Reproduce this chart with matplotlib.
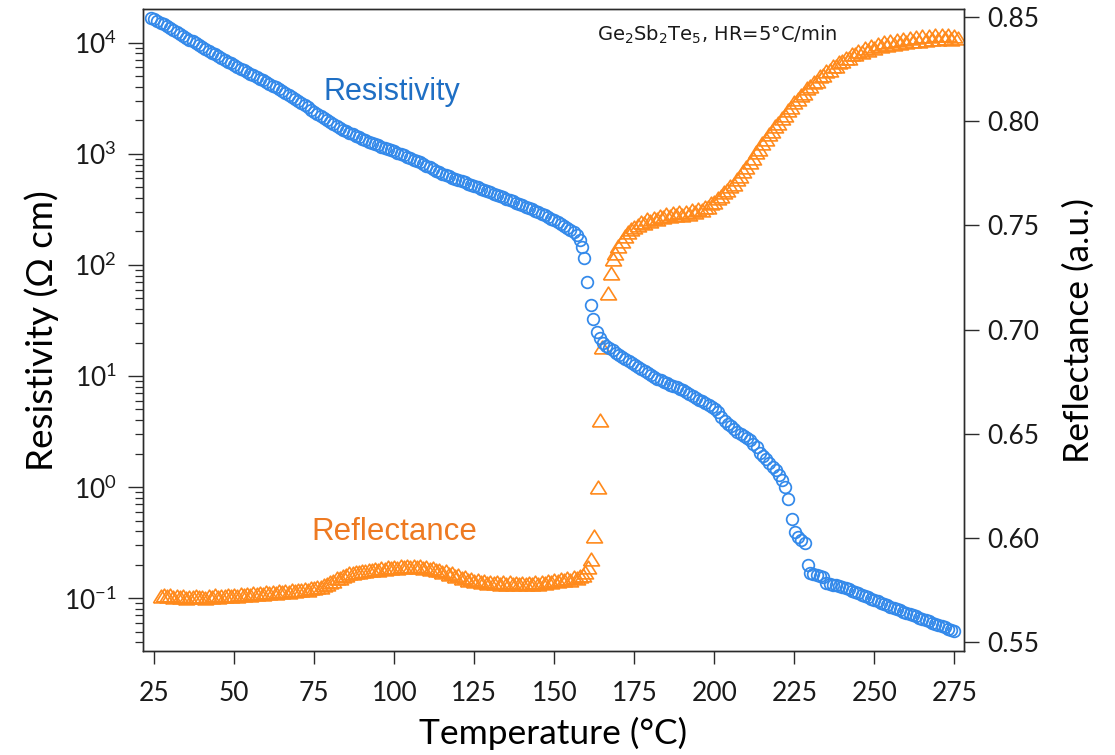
import matplotlib
matplotlib.use("Agg")
import numpy as np
import matplotlib.pyplot as plt
from matplotlib.ticker import LogLocator, NullFormatter, FormatStrFormatter, FixedLocator

# ---------------------------------------------------------------------------
# Data: Ge2Sb2Te5 film heated at 5 °C/min
# ---------------------------------------------------------------------------
# Resistivity, stored as log10(rho / Ohm cm)
res_temp = [
    24, 25, 26, 27, 28, 29, 30, 31, 32, 33,
    34, 35, 36, 37, 38, 39, 40, 41, 42, 43,
    44, 45, 46, 47, 48, 49, 50, 51, 52, 53,
    54, 55, 56, 57, 58, 59, 60, 61, 62, 63,
    64, 65, 66, 67, 68, 69, 70, 71, 72, 73,
    74, 75, 76, 77, 78, 79, 80, 81, 82, 83,
    84, 85, 86, 87, 88, 89, 90, 91, 92, 93,
    94, 95, 96, 97, 98, 99, 100, 101, 102, 103,
    104, 105, 106, 107, 108, 109, 110, 111, 112, 113,
    114, 115, 116, 117, 118, 119, 120, 121, 122, 123,
    124, 125, 126, 127, 128, 129, 130, 131, 132, 133,
    134, 135, 136, 137, 138, 139, 140, 141, 142, 143,
    144, 145, 146, 147, 148, 149, 150, 151, 152, 153,
    154, 155, 156, 157, 158,
    158.7, 159.3, 160.3, 161.3, 162.2, 163.2, 164.2, 165.2, 166.2, 167.2,
    168.2, 169.2, 170.2, 171.2, 172.2, 173.2, 174.2, 175.2, 176.2, 177.2,
    178.2, 179.2, 180.2, 181.2, 182.2, 183.2, 184.2, 185.2, 186.2, 187.2,
    188.2, 189.2, 190.2, 191.2, 192.2, 193.2, 194.2, 195.2, 196.2, 197.2,
    198.2, 199.2, 200.2, 201.2, 202.2, 203.2, 204.2, 205.2, 206.2, 207.2,
    208.2, 209.2, 210.2, 211.2, 212.2, 213.2, 214.2, 215.2, 216.2, 217.2,
    218.2, 219.2, 220.2, 221.2,
    222.1, 223.1, 224.2, 225.2, 226.2, 227.2, 228.2, 229.1, 229.9, 230.9,
    232.0, 233.0, 234.0, 235.0,
    236, 237, 238, 239, 240, 241, 242, 243, 244, 245,
    246, 247, 248, 249, 250, 251, 252, 253, 254, 255,
    256, 257, 258, 259, 260, 261, 262, 263, 264, 265,
    266, 267, 268, 269, 270, 271, 272, 273, 274, 275,
]
res_log = [
    4.220, 4.210, 4.195, 4.180, 4.165, 4.147, 4.130, 4.113, 4.096, 4.079,
    4.062, 4.045, 4.028, 4.011, 3.994, 3.977, 3.960, 3.943, 3.926, 3.910,
    3.894, 3.878, 3.862, 3.846, 3.830, 3.814, 3.798, 3.782, 3.767, 3.752,
    3.737, 3.722, 3.707, 3.692, 3.677, 3.662, 3.646, 3.630, 3.614, 3.597,
    3.580, 3.562, 3.544, 3.526, 3.508, 3.490, 3.473, 3.456, 3.438, 3.418,
    3.398, 3.378, 3.359, 3.340, 3.321, 3.302, 3.283, 3.266, 3.249, 3.232,
    3.217, 3.203, 3.189, 3.175, 3.162, 3.149, 3.136, 3.123, 3.110, 3.098,
    3.087, 3.076, 3.065, 3.054, 3.043, 3.032, 3.021, 3.010, 2.999, 2.988,
    2.975, 2.961, 2.947, 2.933, 2.925, 2.905, 2.891, 2.877, 2.863, 2.849,
    2.835, 2.822, 2.810, 2.798, 2.786, 2.775, 2.764, 2.753, 2.742, 2.731,
    2.720, 2.708, 2.697, 2.686, 2.675, 2.664, 2.653, 2.642, 2.631, 2.620,
    2.608, 2.596, 2.584, 2.572, 2.560, 2.548, 2.536, 2.524, 2.512, 2.500,
    2.488, 2.475, 2.461, 2.446, 2.431, 2.415, 2.400, 2.384, 2.367, 2.350,
    2.332, 2.313, 2.292, 2.265, 2.225,
    2.160, 2.060, 1.850, 1.640, 1.510, 1.400, 1.340, 1.300, 1.272, 1.250,
    1.230, 1.210, 1.190, 1.172, 1.155, 1.138, 1.121, 1.102, 1.083, 1.064,
    1.045, 1.026, 1.008, 0.992, 0.977, 0.962, 0.947, 0.933, 0.921, 0.909,
    0.897, 0.885, 0.873, 0.857, 0.840, 0.822, 0.805, 0.788, 0.771, 0.754,
    0.737, 0.720, 0.703, 0.680, 0.635, 0.598, 0.572, 0.546, 0.522, 0.500,
    0.479, 0.459, 0.440, 0.420, 0.392, 0.360, 0.310, 0.280, 0.250, 0.220,
    0.185, 0.150, 0.110, 0.060,
    0.000, -0.110, -0.290, -0.400, -0.446, -0.476, -0.500, -0.700, -0.776, -0.785,
    -0.791, -0.798, -0.806, -0.866,
    -0.872, -0.878, -0.884, -0.890, -0.900, -0.910, -0.920, -0.932, -0.944, -0.956,
    -0.968, -0.980, -0.992, -1.004, -1.016, -1.028, -1.040, -1.052, -1.064, -1.076,
    -1.087, -1.098, -1.109, -1.120, -1.131, -1.142, -1.153, -1.164, -1.175, -1.186,
    -1.197, -1.208, -1.219, -1.230, -1.241, -1.252, -1.263, -1.274, -1.285, -1.296,
]

# Reflectance (a.u.)
refl_temp = [
    27, 28, 29, 30, 31, 32, 33, 34, 35, 36,
    37, 38, 39, 40, 41, 42, 43, 44, 45, 46,
    47, 48, 49, 50, 51, 52, 53, 54, 55, 56,
    57, 58, 59, 60, 61, 62, 63, 64, 65, 66,
    67, 68, 69, 70, 71, 72, 73, 74, 75, 76,
    77, 78, 79, 80, 81, 82, 83, 84, 85, 86,
    87, 88, 89, 90, 91, 92, 93, 94, 95, 96,
    97, 98, 99, 100, 101, 102, 103, 104, 105, 106,
    107, 108, 109, 110, 111, 112, 113, 114, 115, 116,
    117, 118, 119, 120, 121, 122, 123, 124, 125, 126,
    127, 128, 129, 130, 131, 132, 133, 134, 135, 136,
    137, 138, 139, 140, 141, 142, 143, 144, 145, 146,
    147, 148, 149, 150, 151, 152, 153, 154, 155, 156,
    157, 158, 159,
    159.6, 160.4, 161.4, 162.4, 163.6, 164.3, 164.8, 166.7, 167.6, 168.4,
    169, 170, 171, 172, 173, 174, 175, 176, 177, 178,
    179, 180, 181, 182, 183, 184, 185, 186, 187, 188,
    189, 190, 191, 192, 193, 194, 195, 196, 197, 198,
    199, 200, 201, 202, 203, 204, 205, 206, 207, 208,
    209, 210, 211, 212, 213, 214, 215, 216, 217, 218,
    219, 220, 221, 222, 223, 224, 225, 226, 227, 228,
    229, 230, 231, 232, 233, 234, 235, 236, 237, 238,
    239, 240, 241, 242, 243, 244, 245, 246, 247, 248,
    249, 250, 251, 252, 253, 254, 255, 256, 257, 258,
    259, 260, 261, 262, 263, 264, 265, 266, 267, 268,
    269, 270, 271, 272, 273, 274, 275, 276,
]
refl_value = [
    0.5722, 0.5728, 0.5720, 0.5726, 0.5718, 0.5724, 0.5716, 0.5721, 0.5714, 0.5719,
    0.5715, 0.5724, 0.5716, 0.5719, 0.5714, 0.5721, 0.5717, 0.5726, 0.5719, 0.5724,
    0.5720, 0.5729, 0.5722, 0.5727, 0.5723, 0.5731, 0.5726, 0.5733, 0.5728, 0.5735,
    0.5731, 0.5738, 0.5733, 0.5741, 0.5735, 0.5742, 0.5737, 0.5745, 0.5740, 0.5747,
    0.5742, 0.5751, 0.5746, 0.5753, 0.5749, 0.5757, 0.5753, 0.5761, 0.5758, 0.5767,
    0.5766, 0.5776, 0.5778, 0.5790, 0.5795, 0.5806, 0.5810, 0.5820, 0.5822, 0.5830,
    0.5830, 0.5838, 0.5836, 0.5843, 0.5840, 0.5848, 0.5845, 0.5852, 0.5848, 0.5856,
    0.5852, 0.5859, 0.5855, 0.5862, 0.5857, 0.5865, 0.5860, 0.5867, 0.5862, 0.5868,
    0.5861, 0.5866, 0.5858, 0.5862, 0.5852, 0.5856, 0.5845, 0.5849, 0.5837, 0.5840,
    0.5828, 0.5831, 0.5819, 0.5821, 0.5809, 0.5812, 0.5800, 0.5804, 0.5794, 0.5798,
    0.5789, 0.5794, 0.5785, 0.5791, 0.5783, 0.5789, 0.5781, 0.5788, 0.5780, 0.5787,
    0.5779, 0.5786, 0.5778, 0.5785, 0.5778, 0.5786, 0.5779, 0.5788, 0.5781, 0.5791,
    0.5784, 0.5795, 0.5788, 0.5799, 0.5792, 0.5803, 0.5797, 0.5807, 0.5801, 0.5811,
    0.5808, 0.5818, 0.5822,
    0.5838, 0.5862, 0.5900, 0.6012, 0.6247, 0.6566, 0.6915, 0.7176, 0.7272, 0.7336,
    0.7365, 0.7400, 0.7425, 0.7450, 0.7468, 0.7480, 0.7494, 0.7502, 0.7515, 0.7512,
    0.7528, 0.7522, 0.7537, 0.7530, 0.7546, 0.7538, 0.7554, 0.7545, 0.7559, 0.7548,
    0.7562, 0.7551, 0.7566, 0.7556, 0.7572, 0.7563, 0.7580, 0.7573, 0.7590, 0.7588,
    0.7606, 0.7610, 0.7630, 0.7640, 0.7660, 0.7668, 0.7688, 0.7700, 0.7722, 0.7736,
    0.7760, 0.7778, 0.7803, 0.7822, 0.7850, 0.7868, 0.7895, 0.7912, 0.7938, 0.7952,
    0.7976, 0.7990, 0.8014, 0.8028, 0.8052, 0.8066, 0.8090, 0.8104, 0.8126, 0.8136,
    0.8158, 0.8166, 0.8188, 0.8194, 0.8216, 0.8220, 0.8240, 0.8244, 0.8264, 0.8266,
    0.8285, 0.8286, 0.8304, 0.8304, 0.8322, 0.8320, 0.8338, 0.8333, 0.8350, 0.8343,
    0.8361, 0.8352, 0.8370, 0.8358, 0.8377, 0.8364, 0.8383, 0.8369, 0.8388, 0.8374,
    0.8393, 0.8378, 0.8398, 0.8382, 0.8402, 0.8386, 0.8406, 0.8389, 0.8410, 0.8392,
    0.8413, 0.8395, 0.8415, 0.8396, 0.8414, 0.8395, 0.8410, 0.8396,
]

temp_ticks = [25, 50, 75, 100, 125, 150, 175, 200, 225, 250, 275]
refl_ticks = [0.55, 0.60, 0.65, 0.70, 0.75, 0.80, 0.85]

assert len(res_temp) == len(res_log)
assert len(refl_temp) == len(refl_value)

# ---------------------------------------------------------------------------
# Styling
# ---------------------------------------------------------------------------
BLUE = "#3389ea"
BLUE_TEXT = "#1f6fc4"
ORANGE = "#ff8a1c"
ORANGE_TEXT = "#ee7a22"
AXIS = "#2b2b2b"

plt.rcParams["font.family"] = ["Lato", "DejaVu Sans"]
plt.rcParams["axes.linewidth"] = 1.0
plt.rcParams["axes.unicode_minus"] = False

fig = plt.figure(figsize=(11.15, 7.55), dpi=100)
ax = fig.add_axes([0.1280, 0.1377, 0.7366, 0.8500])
ax2 = ax.twinx()

# circles drawn above the triangles
ax.set_zorder(ax2.get_zorder() + 1)
ax.patch.set_visible(False)

# flattened open triangle marker
tri = [(-1.0, -0.8), (1.0, -0.8), (0.0, 0.8), (-1.0, -0.8)]

ax2.plot(refl_temp, refl_value, linestyle="none", marker=tri, markersize=11.5,
         markerfacecolor="none", markeredgecolor=ORANGE, markeredgewidth=1.2)
ax.plot(res_temp, np.power(10.0, res_log), linestyle="none", marker="o",
        markersize=8.4, markerfacecolor="none", markeredgecolor=BLUE,
        markeredgewidth=1.25)

# axes ranges
ax.set_xlim(21.4, 278.0)
ax.set_yscale("log")
ax.set_ylim(10 ** -1.475, 10 ** 4.3006)
ax2.set_ylim(0.5458, 0.8536)

# ticks
ax.set_xticks(temp_ticks)
ax.yaxis.set_major_locator(LogLocator(base=10, numticks=20))
ax.yaxis.set_minor_locator(LogLocator(base=10, subs=np.arange(2, 10), numticks=20))
ax.yaxis.set_minor_formatter(NullFormatter())
ax2.yaxis.set_major_locator(FixedLocator(refl_ticks))
ax2.yaxis.set_major_formatter(FormatStrFormatter("%.2f"))

ax.tick_params(axis="x", which="major", direction="out", length=9.5, width=1.0,
               labelsize=19, pad=12, color=AXIS, labelcolor="#1a1a1a")
ax.tick_params(axis="y", which="major", direction="out", length=10.5, width=1.0,
               labelsize=19, pad=8, color=AXIS, labelcolor="#1a1a1a", right=False)
ax.tick_params(axis="y", which="minor", direction="out", length=5.5, width=0.9,
               color=AXIS, right=False)
ax2.tick_params(axis="y", which="major", direction="out", length=10.5, width=1.0,
                labelsize=19, pad=6, color=AXIS, labelcolor="#1a1a1a")

for a in (ax, ax2):
    for s in a.spines.values():
        s.set_color(AXIS)
        s.set_linewidth(1.0)

# axis labels
ax.set_xlabel("Temperature (°C)", fontsize=25.5, labelpad=8)
ax.set_ylabel("Resistivity (Ω cm)", fontsize=26.5, labelpad=4)
ax2.set_ylabel("Reflectance (a.u.)", fontsize=25.5, labelpad=17)

# annotations
ax.text(78.0, 10 ** 3.484, "Resistivity", color=BLUE_TEXT, fontsize=22,
        family=["Liberation Sans", "DejaVu Sans"], ha="left", va="baseline")
ax2.text(74.2, 0.5991, "Reflectance", color=ORANGE_TEXT, fontsize=22.5,
         family=["Liberation Sans", "DejaVu Sans"], ha="left", va="baseline")
ax.text(0.5532, 0.951, r"Ge$_2$Sb$_2$Te$_5$, HR=5°C/min", transform=ax.transAxes,
        fontsize=14, family=["DejaVu Sans"], color="#1a1a1a",
        ha="left", va="baseline")

fig.savefig("out.png", dpi=100)
